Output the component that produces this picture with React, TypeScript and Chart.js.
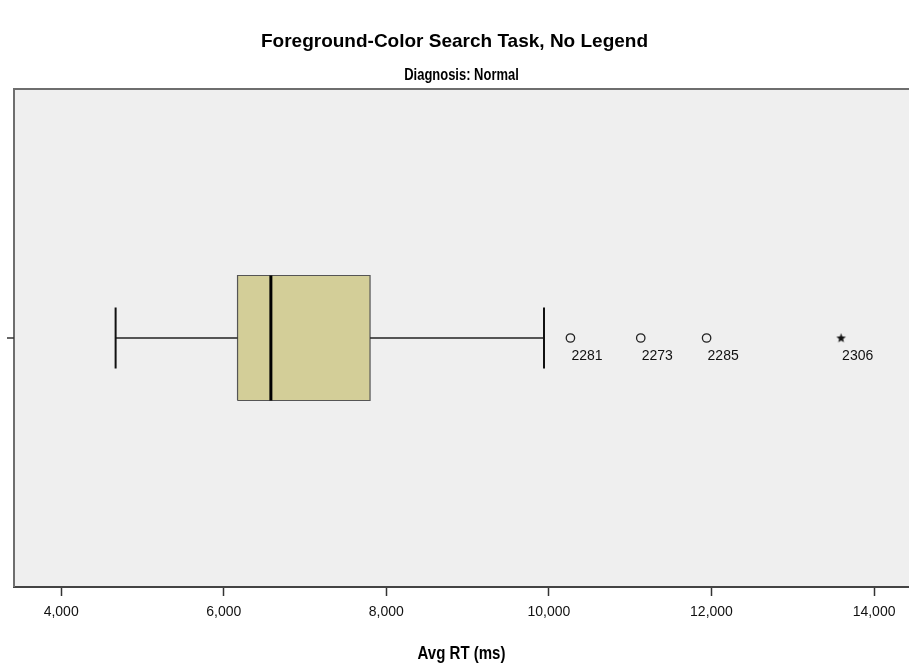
import React, { useEffect, useRef } from 'react';
import { Chart, registerables } from 'chart.js';
Chart.register(...registerables);

const TITLE = 'Foreground-Color Search Task, No Legend';
const PANEL_TITLE = 'Diagnosis: Normal';
const AXIS_TITLE = 'Avg RT (ms)';
const X_TICKS = [4000, 6000, 8000, 10000, 12000, 14000];
const X_MIN = 3420;
const X_MAX = 14430;
const WHISKER_LOW = 4670;
const Q1 = 6170;
const MEDIAN = 6580;
const Q3 = 7800;
const WHISKER_HIGH = 9940;
const OUTLIER_VALUES = [10265, 11130, 11940];
const OUTLIER_IDS = ['2281', '2273', '2285'];
const EXTREME_VALUES = [13595];
const EXTREME_IDS = ['2306'];

const FONT = '"Liberation Sans", Arial, sans-serif';

function drawCondensed(ctx: CanvasRenderingContext2D, text: string, x: number, y: number, sx: number) {
  ctx.save();
  ctx.translate(x, y);
  ctx.scale(sx, 1);
  ctx.fillText(text, 0, 0);
  ctx.restore();
}

export default function App() {
  const ref = useRef<HTMLCanvasElement>(null);

  useEffect(() => {
    document.body.style.margin = '0';
    const canvas = ref.current!;
    const BOX_H = 0.251;
    const CAP_H = 0.1225;

    const star = document.createElement('canvas');
    star.width = 11;
    star.height = 11;
    const sc = star.getContext('2d')!;
    sc.fillStyle = '#111';
    sc.beginPath();
    for (let i = 0; i < 10; i++) {
      const r = i % 2 === 0 ? 5 : 2.1;
      const a = -Math.PI / 2 + (i * Math.PI) / 5;
      const px = 5.5 + r * Math.cos(a);
      const py = 5.8 + r * Math.sin(a);
      if (i === 0) sc.moveTo(px, py);
      else sc.lineTo(px, py);
    }
    sc.closePath();
    sc.fill();

    const decor = {
      id: 'decor',
      beforeDraw(chart: any) {
        const { ctx, chartArea: a } = chart;
        ctx.save();
        ctx.fillStyle = '#ffffff';
        ctx.fillRect(0, 0, chart.width, chart.height);
        ctx.fillStyle = '#efefef';
        ctx.fillRect(a.left, a.top, a.right - a.left, a.bottom - a.top);
        ctx.restore();
      },
      afterDraw(chart: any) {
        const { ctx, chartArea: a } = chart;
        const yS = chart.scales.y;
        ctx.save();
        ctx.strokeStyle = '#6e6e6e';
        ctx.lineWidth = 2;
        ctx.beginPath();
        ctx.moveTo(a.left, a.bottom);
        ctx.lineTo(a.left, a.top);
        ctx.lineTo(a.right, a.top);
        ctx.stroke();
        const yc = yS.getPixelForValue(0);
        ctx.strokeStyle = '#333';
        ctx.lineWidth = 1.5;
        ctx.beginPath();
        ctx.moveTo(a.left - 7, yc);
        ctx.lineTo(a.left, yc);
        ctx.stroke();
        ctx.fillStyle = '#000';
        ctx.textAlign = 'center';
        ctx.textBaseline = 'middle';
        ctx.font = `bold 19px ${FONT}`;
        ctx.fillText(TITLE, chart.width / 2, 42);
        ctx.font = `bold 16px ${FONT}`;
        drawCondensed(ctx, PANEL_TITLE, (a.left + a.right) / 2, 76, 0.81);
        ctx.font = `bold 19px ${FONT}`;
        drawCondensed(ctx, AXIS_TITLE, (a.left + a.right) / 2, 654, 0.79);
        ctx.restore();
      },
      afterDatasetsDraw(chart: any) {
        const { ctx } = chart;
        ctx.save();
        ctx.fillStyle = '#111';
        ctx.font = `14px ${FONT}`;
        ctx.textAlign = 'left';
        ctx.textBaseline = 'top';
        chart.data.datasets.forEach((ds: any, i: number) => {
          if (!ds.ids) return;
          const meta = chart.getDatasetMeta(i);
          meta.data.forEach((el: any, j: number) => {
            ctx.fillText(ds.ids[j], el.x + 1, el.y + 11);
          });
        });
        ctx.restore();
      },
    };

    const line = (pts: any[], color: string, width: number, order: number, extra: any = {}) => ({
      data: pts,
      showLine: true,
      borderColor: color,
      borderWidth: width,
      pointRadius: 0,
      fill: false,
      order,
      ...extra,
    });

    const chart = new Chart(canvas, {
      type: 'scatter',
      data: {
        datasets: [
          line(
            [
              { x: Q1, y: BOX_H },
              { x: Q3, y: BOX_H },
            ],
            'rgba(0,0,0,0)',
            0,
            10,
            { fill: { value: -BOX_H }, backgroundColor: '#d3ce98' }
          ),
          line(
            [
              { x: Q1, y: -BOX_H },
              { x: Q3, y: -BOX_H },
              { x: Q3, y: BOX_H },
              { x: Q1, y: BOX_H },
              { x: Q1, y: -BOX_H },
            ],
            '#555555',
            1.2,
            9
          ),
          line(
            [
              { x: WHISKER_LOW, y: 0 },
              { x: Q1, y: 0 },
            ],
            '#222',
            1.5,
            8
          ),
          line(
            [
              { x: Q3, y: 0 },
              { x: WHISKER_HIGH, y: 0 },
            ],
            '#222',
            1.5,
            8
          ),
          line(
            [
              { x: WHISKER_LOW, y: -CAP_H },
              { x: WHISKER_LOW, y: CAP_H },
            ],
            '#111',
            2,
            7
          ),
          line(
            [
              { x: WHISKER_HIGH, y: -CAP_H },
              { x: WHISKER_HIGH, y: CAP_H },
            ],
            '#111',
            2,
            7
          ),
          line(
            [
              { x: MEDIAN, y: -BOX_H },
              { x: MEDIAN, y: BOX_H },
            ],
            '#000',
            3,
            6
          ),
          {
            data: OUTLIER_VALUES.map((v) => ({ x: v, y: 0 })),
            ids: OUTLIER_IDS,
            pointStyle: 'circle',
            pointRadius: 4.2,
            pointBorderWidth: 1.3,
            pointBorderColor: '#222',
            pointBackgroundColor: 'rgba(0,0,0,0)',
            showLine: false,
            order: 1,
          } as any,
          {
            data: EXTREME_VALUES.map((v) => ({ x: v, y: 0 })),
            ids: EXTREME_IDS,
            pointStyle: star,
            pointRadius: 5,
            showLine: false,
            order: 1,
          } as any,
        ],
      },
      options: {
        animation: false,
        responsive: false,
        maintainAspectRatio: false,
        devicePixelRatio: 1,
        events: [],
        layout: { autoPadding: false, padding: { top: 89, left: 14, right: 0, bottom: 0 } },
        plugins: {
          legend: { display: false },
          tooltip: { enabled: false },
          title: { display: false },
        },
        scales: {
          x: {
            type: 'linear',
            min: X_MIN,
            max: X_MAX,
            afterBuildTicks: (scale: any) => {
              scale.ticks = X_TICKS.map((v) => ({ value: v }));
            },
            afterFit: (scale: any) => {
              scale.height = 83;
              scale.paddingLeft = 0;
              scale.paddingRight = 0;
            },
            grid: {
              drawOnChartArea: false,
              drawTicks: true,
              tickLength: 9,
              tickWidth: 1.5,
              tickColor: '#333',
            },
            border: { display: true, color: '#444', width: 2 },
            ticks: {
              color: '#111',
              font: { family: FONT, size: 14 },
              padding: 8,
              maxRotation: 0,
              callback: (v: any) => Number(v).toLocaleString('en-US'),
            },
          },
          y: {
            type: 'linear',
            min: -1,
            max: 1,
            display: false,
          },
        },
      },
      plugins: [decor],
    } as any);

    return () => chart.destroy();
  }, []);

  return (
    <div style={{ position: 'fixed', left: 0, top: 0, width: 909, height: 670, background: '#fff' }}>
      <canvas ref={ref} width={909} height={670} />
    </div>
  );
}
